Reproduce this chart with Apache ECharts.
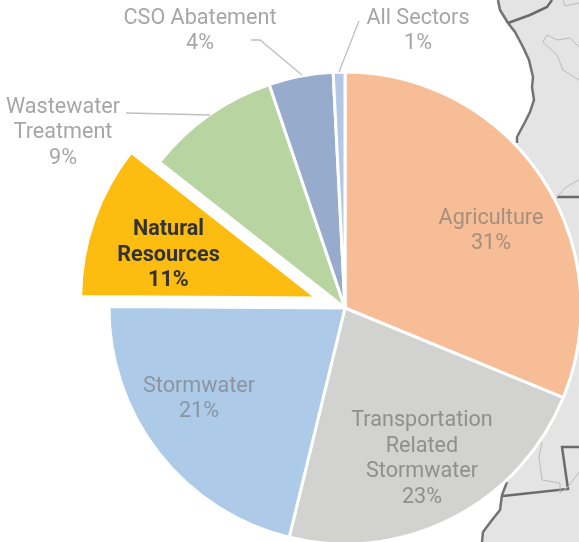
<!DOCTYPE html>
<html>
<head>
<meta charset="utf-8">
<style>
  html, body { margin: 0; padding: 0; background: #fff; }
  #chart { width: 579px; height: 542px; }
</style>
<script src="https://cdn.jsdelivr.net/npm/echarts@6/dist/echarts.min.js"></script>
</head>
<body>
<div id="chart"></div>
<script>
const categories = ['Agriculture', 'Transportation\nRelated\nStormwater', 'Stormwater', 'Natural\nResources', 'Wastewater\nTreatment', 'CSO Abatement', 'All Sectors']
const values = [31.2, 22.6, 21.3, 10.5, 9.2, 4.4, 0.8]
const percentLabels = ['31%', '23%', '21%', '11%', '9%', '4%', '1%']
const sliceColors = ['#F6BD96', '#D2D2D0', '#ADCAE9', '#FDBD10', '#B8D5A1', '#97ABCC', '#B4C7E7']
const labelColors = ['#A58F7E', '#8F8F8F', '#8C959F', '#333333', '#A6A6A6', '#A6A6A6', '#A6A6A6']
const labelCentres = [[491, 231], [422, 459], [199, 399], [167, 252], [63, 133], [200, 31], [418, 31]]
// the exploded slice keeps its own label spot, so it is nudged instead
const selectedLabelNudge = [-34, -3]

// map behind the pie
const land = [[498, 0], [500, 10], [508, 23], [515, 32], [523, 47], [529, 60], [533, 77], [532, 87], [534, 100], [530, 112], [525, 122], [517, 137], [517, 143], [480, 300], [507, 482], [502, 495], [500, 510], [492, 520], [483, 532], [482, 542], [579, 542], [579, 0]]
const coastTop = land.slice(0, 13)
const coastBottom = [[507, 482], [502, 495], [500, 510], [492, 520], [483, 532], [482, 542]]
const borders = [
  [[508, 23], [530, 15], [547, 7], [552, 0]],
  [[503, 496], [568, 489], [562, 447], [579, 447]],
  [[557, 197], [579, 197]]
]
const rivers = [
  [[542, 442], [539, 457], [542, 480], [560, 483], [560, 493], [568, 487], [579, 472]],
  [[557, 197], [565, 188], [575, 182], [579, 180]],
  [[579, 47], [570, 38], [557, 40], [547, 35], [543, 42], [557, 55], [563, 70], [579, 80]],
  [[563, 0], [565, 6], [579, 3]]
]
const leaders = [
  [[126, 113], [210, 115]],
  [[251, 40], [260, 40], [302, 75]],
  [[339, 72], [359, 21]]
]

const line = (points, stroke, lineWidth, z) => ({
  type: 'polyline',
  z: z,
  silent: true,
  shape: { points: points },
  style: { fill: null, stroke: stroke, lineWidth: lineWidth }
})

const graphics = [
  { type: 'polygon', z: 0, silent: true, shape: { points: land }, style: { fill: '#E4E4E4' } },
  line(coastTop, '#737373', 2.5, 1),
  line(coastBottom, '#737373', 2.5, 1)
]
borders.forEach(b => graphics.push(line(b, '#6A6A6A', 2.5, 1)))
rivers.forEach(r => graphics.push(line(r, '#BBBBBB', 1, 1)))
leaders.forEach(l => graphics.push(line(l, '#BFBFBF', 1.3, 5)))

const chart = echarts.init(document.getElementById('chart'))
chart.setOption({
  animation: false,
  graphic: graphics,
  series: [{
    type: 'pie',
    z: 3,
    center: [345, 308],
    radius: [0, 236],
    startAngle: 90,
    clockwise: true,
    avoidLabelOverlap: false,
    selectedMode: 'multiple',
    selectedOffset: 30,
    data: categories.map((name, i) => ({
      name: name,
      value: values[i],
      selected: i === 3,
      itemStyle: { color: sliceColors[i] },
      select: {
        itemStyle: { color: sliceColors[i], borderColor: '#fff', borderWidth: 3 },
        label: { color: labelColors[i], offset: selectedLabelNudge }
      },
      label: {
        color: labelColors[i],
        fontWeight: i === 3 ? 'bold' : 'normal',
        formatter: name + '\n' + percentLabels[i]
      }
    })),
    itemStyle: { borderColor: '#fff', borderWidth: 3 },
    label: {
      position: 'inside',
      fontFamily: 'Roboto',
      fontSize: 21.6,
      lineHeight: 25.5,
      align: 'center'
    },
    labelLine: { show: false },
    labelLayout: params => ({
      x: labelCentres[params.dataIndex][0],
      y: labelCentres[params.dataIndex][1],
      align: 'center',
      verticalAlign: 'middle'
    })
  }]
})
</script>
</body>
</html>
